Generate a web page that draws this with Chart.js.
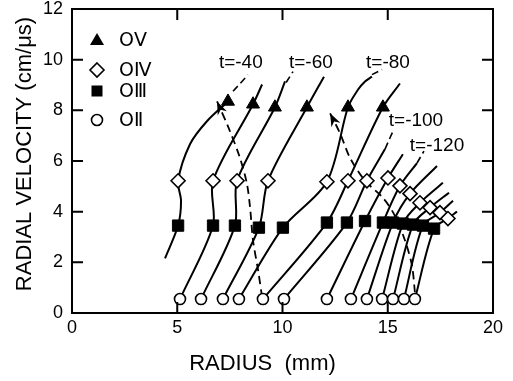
<!DOCTYPE html>
<html>
<head>
<meta charset="utf-8">
<script src="https://cdn.jsdelivr.net/npm/chart.js@4/dist/chart.umd.min.js"></script>
<style>
  html, body { margin: 0; padding: 0; background: #fff; }
</style>
</head>
<body>
<canvas id="chart" width="513" height="381"></canvas>
<script>
// marker positions: [radius (mm), radial velocity (cm/us)]
const oV = [[7.41,8.35],[8.60,8.24],[9.64,8.12],[11.16,8.12],[13.11,8.12],[14.77,8.12]];
const oIV = [[5.04,5.22],[6.70,5.22],[7.84,5.22],[9.31,5.22],[12.11,5.18],[13.11,5.22],[14.01,5.22],
  [15.01,5.33],[15.58,5.02],[16.06,4.71],[16.53,4.35],[17.01,4.16],[17.48,3.96],[17.86,3.73]];
const oIII = [[5.04,3.45],[6.70,3.45],[7.74,3.45],[8.88,3.37],[10.02,3.37],[12.11,3.57],[13.06,3.57],
  [13.92,3.63],[14.77,3.57],[15.25,3.57],[15.72,3.53],[16.20,3.49],[16.67,3.45],[17.20,3.33]];
const oII = [[5.13,0.55],[6.13,0.55],[7.17,0.55],[7.93,0.55],[9.07,0.55],[10.07,0.55],[12.11,0.55],
  [13.25,0.55],[14.01,0.55],[14.73,0.55],[15.25,0.55],[15.77,0.55],[16.29,0.55]];

// solid curves, one per shot
const curves = [
  [[4.42,2.16],[5.04,3.45],[5.18,4.43],[5.04,5.22],[5.61,6.67],[6.41,7.57],[7.41,8.35]],
  [[5.13,0.55],[6.70,3.45],[6.70,5.22],[8.60,8.24],[9.03,9.02]],
  [[6.13,0.55],[7.74,3.45],[7.84,5.22],[9.64,8.12],[10.12,9.14]],
  [[7.17,0.55],[8.88,3.37],[9.31,5.22],[11.16,8.12],[11.97,9.33]],
  [[7.93,0.55],[10.02,3.37],[12.11,5.18],[13.11,8.12],[13.59,8.82],[13.92,9.14],[14.25,9.33]],
  [[9.07,0.55],[12.11,3.57],[13.11,5.22],[14.77,8.12],[15.58,9.06]],
  [[10.07,0.55],[13.06,3.57],[14.01,5.22],[14.87,6.47]],
  [[12.11,0.55],[13.92,3.63],[15.01,5.33],[15.72,6.27]],
  [[13.25,0.55],[14.77,3.57],[15.58,5.02],[16.39,5.92]],
  [[14.01,0.55],[15.25,3.57],[16.06,4.71],[17.34,5.80]],
  [[14.73,0.55],[15.72,3.53],[16.53,4.35],[17.62,5.14]],
  [[15.25,0.55],[16.20,3.49],[17.01,4.16],[17.91,4.75]],
  [[15.77,0.55],[16.67,3.45],[17.48,3.96],[18.10,4.43]],
  [[16.29,0.55],[17.20,3.33],[17.86,3.73],[18.29,4.00]]
];

// dashed paths ending in arrows
const dashA = [[9.03,0.63],[8.84,1.69],[8.60,2.86],[8.46,4.16],[8.31,5.10],[7.98,6.12],[7.41,7.37],[6.89,8.35]];
const dashB = [[16.29,0.82],[16.15,1.88],[15.82,2.86],[15.34,3.84],[14.77,4.55],[13.92,5.22],[13.21,6.12],[12.73,7.10],[12.26,7.88]];

// time labels and their leaders
const timeLabels = ['t=-40', 't=-60', 't=-80', 't=-100', 't=-120'];
const timeLabelAt = [[8.02,9.88],[11.35,9.88],[15.01,9.88],[16.34,7.57],[17.34,6.59]];
const leaders = [
  [[7.65,8.75],[8.36,9.40]],
  [[10.17,9.10],[10.50,9.53]],
  [[14.25,9.41],[14.73,9.61]],
  [[14.87,6.47],[15.25,7.18]],
  [[16.39,5.92],[16.72,6.39]]
];

const xTicks = [0, 5, 10, 15, 20];
const yTicks = [0, 2, 4, 6, 8, 10, 12];

const legendItems = ['OⅤ', 'OⅣ', 'OⅢ', 'OⅡ'];

const toXY = pts => pts.map(p => ({x: p[0], y: p[1]}));

Chart.defaults.font.family = '"Liberation Sans", Arial, sans-serif';
Chart.defaults.color = '#000';

const datasets = [
  {data: toXY(oV), pointStyle: 'triangle', pointRadius: 7.5, backgroundColor: '#000', borderColor: '#000', borderWidth: 1, order: 0},
  {data: toXY(oIV), pointStyle: 'rectRot', pointRadius: 7, backgroundColor: '#fff', borderColor: '#000', borderWidth: 1.6, order: 0},
  {data: toXY(oIII), pointStyle: 'rect', pointRadius: 8, backgroundColor: '#000', borderColor: '#000', borderWidth: 1, order: 0},
  {data: toXY(oII), pointStyle: 'circle', pointRadius: 5.5, backgroundColor: '#fff', borderColor: '#000', borderWidth: 1.6, order: 0}
];
curves.forEach(c => datasets.push({
  data: toXY(c), showLine: true, pointRadius: 0, borderColor: '#000', borderWidth: 2, tension: 0.3, order: 2
}));
[dashA, dashB].forEach(d => datasets.push({
  data: toXY(d), showLine: true, pointRadius: 0, borderColor: '#000', borderWidth: 1.8, borderDash: [8, 5], tension: 0.3, order: 1
}));
leaders.forEach(l => datasets.push({
  data: toXY(l), showLine: true, pointRadius: 0, borderColor: '#000', borderWidth: 1.6, borderDash: [7, 4], order: 1
}));

const arrowTips = {
  id: 'arrowTips',
  afterDatasetsDraw(chart) {
    const {ctx, scales: {x, y}} = chart;
    ctx.save();
    ctx.fillStyle = '#000';
    [dashA, dashB].forEach(path => {
      const p = path[path.length - 1], q = path[path.length - 2];
      const tx = x.getPixelForValue(p[0]), ty = y.getPixelForValue(p[1]);
      const ang = Math.atan2(ty - y.getPixelForValue(q[1]), tx - x.getPixelForValue(q[0]));
      const c = Math.cos(ang), s = Math.sin(ang);
      ctx.beginPath();
      ctx.moveTo(tx, ty);
      ctx.lineTo(tx - 13 * c + 5 * s, ty - 13 * s - 5 * c);
      ctx.lineTo(tx - 9 * c, ty - 9 * s);
      ctx.lineTo(tx - 13 * c - 5 * s, ty - 13 * s + 5 * c);
      ctx.closePath();
      ctx.fill();
    });
    ctx.restore();
  }
};

const decorations = {
  id: 'decorations',
  afterDraw(chart) {
    const {ctx, chartArea: a, scales: {x, y}} = chart;
    ctx.save();
    ctx.strokeStyle = '#000';
    ctx.lineWidth = 2;
    ctx.strokeRect(a.left, a.top, a.right - a.left, a.bottom - a.top);

    // inward ticks on all four sides
    ctx.beginPath();
    xTicks.slice(1, -1).forEach(v => {
      const px = x.getPixelForValue(v);
      ctx.moveTo(px, a.bottom); ctx.lineTo(px, a.bottom - 11);
      ctx.moveTo(px, a.top); ctx.lineTo(px, a.top + 11);
    });
    yTicks.slice(1, -1).forEach(v => {
      const py = y.getPixelForValue(v);
      ctx.moveTo(a.left, py); ctx.lineTo(a.left + 11, py);
      ctx.moveTo(a.right, py); ctx.lineTo(a.right - 11, py);
    });
    ctx.stroke();

    // time labels
    ctx.fillStyle = '#000';
    ctx.font = '19px "Liberation Sans", Arial, sans-serif';
    ctx.textAlign = 'center';
    ctx.textBaseline = 'middle';
    timeLabels.forEach((t, i) => {
      ctx.fillText(t, x.getPixelForValue(timeLabelAt[i][0]), y.getPixelForValue(timeLabelAt[i][1]));
    });

    // legend
    const lx = a.left + 25;
    const rows = [a.top + 31, a.top + 61, a.top + 82, a.top + 111];
    ctx.lineWidth = 1.6;
    // triangle
    ctx.beginPath();
    ctx.moveTo(lx, rows[0] - 7); ctx.lineTo(lx + 7, rows[0] + 5); ctx.lineTo(lx - 7, rows[0] + 5);
    ctx.closePath(); ctx.fill();
    // diamond
    ctx.beginPath();
    ctx.moveTo(lx, rows[1] - 7); ctx.lineTo(lx + 7, rows[1]); ctx.lineTo(lx, rows[1] + 7); ctx.lineTo(lx - 7, rows[1]);
    ctx.closePath(); ctx.stroke();
    // square
    ctx.fillRect(lx - 5.5, rows[2] - 5.5, 11, 11);
    // circle
    ctx.beginPath();
    ctx.arc(lx, rows[3], 5.5, 0, Math.PI * 2);
    ctx.stroke();
    ctx.font = '19px "DejaVu Sans", sans-serif';
    ctx.textAlign = 'left';
    legendItems.forEach((t, i) => ctx.fillText(t, lx + 22, rows[i] + 1));

    // axis titles
    ctx.font = '22px "Liberation Sans", Arial, sans-serif';
    ctx.textAlign = 'center';
    ctx.fillText('RADIUS  (mm)', (a.left + a.right) / 2 - 20, a.bottom + 51);
    ctx.translate(25, (a.top + a.bottom) / 2 - 7);
    ctx.rotate(-Math.PI / 2);
    ctx.fillText('RADIAL VELOCITY (cm/μs)', 0, 0);
    ctx.restore();
  }
};

new Chart(document.getElementById('chart'), {
  type: 'scatter',
  data: {datasets},
  options: {
    responsive: false,
    animation: false,
    layout: {padding: {left: 0, right: 20, top: 7, bottom: 0}},
    plugins: {legend: {display: false}, tooltip: {enabled: false}},
    scales: {
      x: {
        type: 'linear', min: 0, max: 20,
        afterBuildTicks: s => { s.ticks = xTicks.map(v => ({value: v})); },
        ticks: {padding: 4, font: {size: 18}, color: '#000'},
        grid: {display: false, drawTicks: false},
        border: {display: false},
        afterFit: s => { s.height = 68; s.paddingLeft = 0; s.paddingRight = 0; }
      },
      y: {
        type: 'linear', min: 0, max: 12,
        afterBuildTicks: s => { s.ticks = yTicks.map(v => ({value: v})); },
        ticks: {padding: 9, font: {size: 18}, color: '#000'},
        grid: {display: false, drawTicks: false},
        border: {display: false},
        afterFit: s => { s.width = 72; s.paddingTop = 0; s.paddingBottom = 0; }
      }
    }
  },
  plugins: [arrowTips, decorations]
});
</script>
</body>
</html>
